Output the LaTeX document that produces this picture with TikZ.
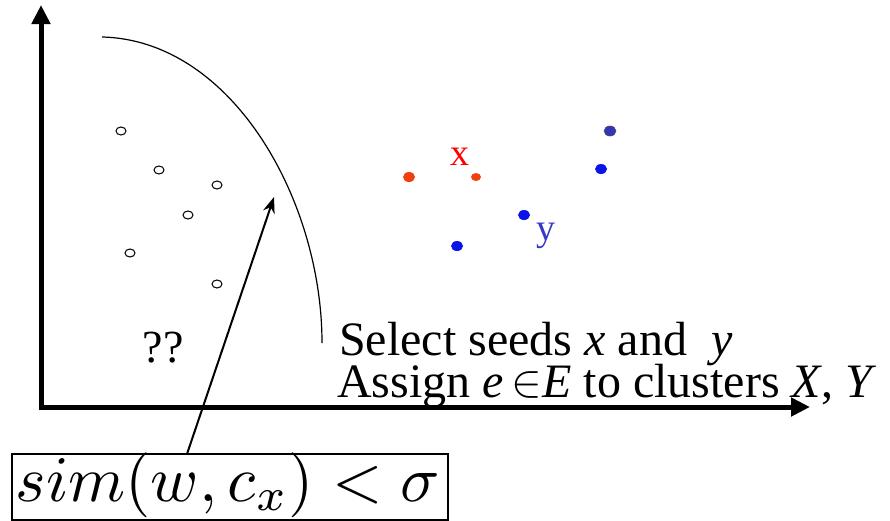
\documentclass[tikz,border=0pt]{standalone}
\usepackage{fontspec}
\setmainfont{Liberation Serif}
\usetikzlibrary{arrows.meta,shapes.geometric}
\definecolor{redpt}{HTML}{F04010}
\definecolor{bluept}{HTML}{0A14E6}
\definecolor{navypt}{HTML}{3333BB}
\definecolor{ylab}{HTML}{3838C8}
\newcommand{\bigin}{\raisebox{0.5pt}{\scalebox{4.6}{\normalsize$\in$}}}
\begin{document}
\begin{tikzpicture}[x=1pt,y=-1pt,
  axis/.style={line width=5pt,-{Triangle[width=18pt,length=19pt]}},
  hollow/.style={draw,line width=1pt,ellipse,minimum width=10pt,minimum height=8pt,inner sep=0pt,fill=white},
  reddot/.style={fill=redpt,ellipse,inner sep=0pt,minimum width=12pt,minimum height=10pt},
  bluedot/.style={fill=bluept,ellipse,inner sep=0pt,minimum width=12pt,minimum height=10pt},
  lbl/.style={font=\fontsize{48}{50}\selectfont,anchor=base west,inner sep=0pt}]
\useasboundingbox (0,0) rectangle (890,520);
\coordinate (o) at (41,407);
\coordinate (ytop) at (41,5);
\coordinate (xend) at (810,407);
\draw[axis] (41,409.5) -- (ytop);
\draw[axis] (38.5,407) -- (xend);
% boundary curve
\coordinate (c0) at (102,37);
\coordinate (c1) at (322,343);
\draw[line width=1.2pt] (c0) .. controls (232,40) and (322,200) .. (c1);
% hollow points
\node[hollow] (h1) at (121,131) {};
\node[hollow] (h2) at (159,170) {};
\node[hollow] (h3) at (217,185) {};
\node[hollow] (h4) at (188,215) {};
\node[hollow] (h5) at (130,253) {};
\node[hollow] (h6) at (217,284) {};
% coloured points
\node[reddot] (r1) at (409,177) {};
\node[reddot,minimum width=10pt,minimum height=8pt] (r2) at (476,177) {};
\node[bluedot] (b1) at (457,246) {};
\node[bluedot] (b2) at (524,215) {};
\node[bluedot] (b3) at (601,169) {};
\node[fill=navypt,draw=black!70,line width=0.6pt,ellipse,inner sep=0pt,minimum width=12pt,minimum height=10pt] (b4) at (610,131) {};
\node[text=red,font=\fontsize{38}{40}\selectfont,inner sep=0pt,anchor=base] (xl) at (460,165) {x};
\node[text=ylab,font=\fontsize{38}{40}\selectfont,inner sep=0pt,anchor=base] (yl) at (546,240) {y};
\node[font=\fontsize{46}{50}\selectfont,inner sep=0pt,anchor=base] (qq) at (163,362) {??};
\node[lbl] (t1) at (339,355) {Select seeds \textit{x} and~ \textit{y}};
\node[lbl] (t2) at (337,397) {Assign \textit{e}\,\bigin\textit{E} to clusters \textit{X}, \textit{Y}};
% formula box
\draw[line width=1.2pt] (12,454) rectangle (448,520);
\node[inner sep=0pt,anchor=base] (box) at (228,501) {\scalebox{6.5}{$sim(w,c_x)<\sigma$}};
\coordinate (boxtop) at (187,454);
\coordinate (tip) at (274,197);
\draw[line width=2pt,-{Stealth[length=16pt,width=12pt]}] (boxtop) -- (tip);
\end{tikzpicture}
\end{document}
